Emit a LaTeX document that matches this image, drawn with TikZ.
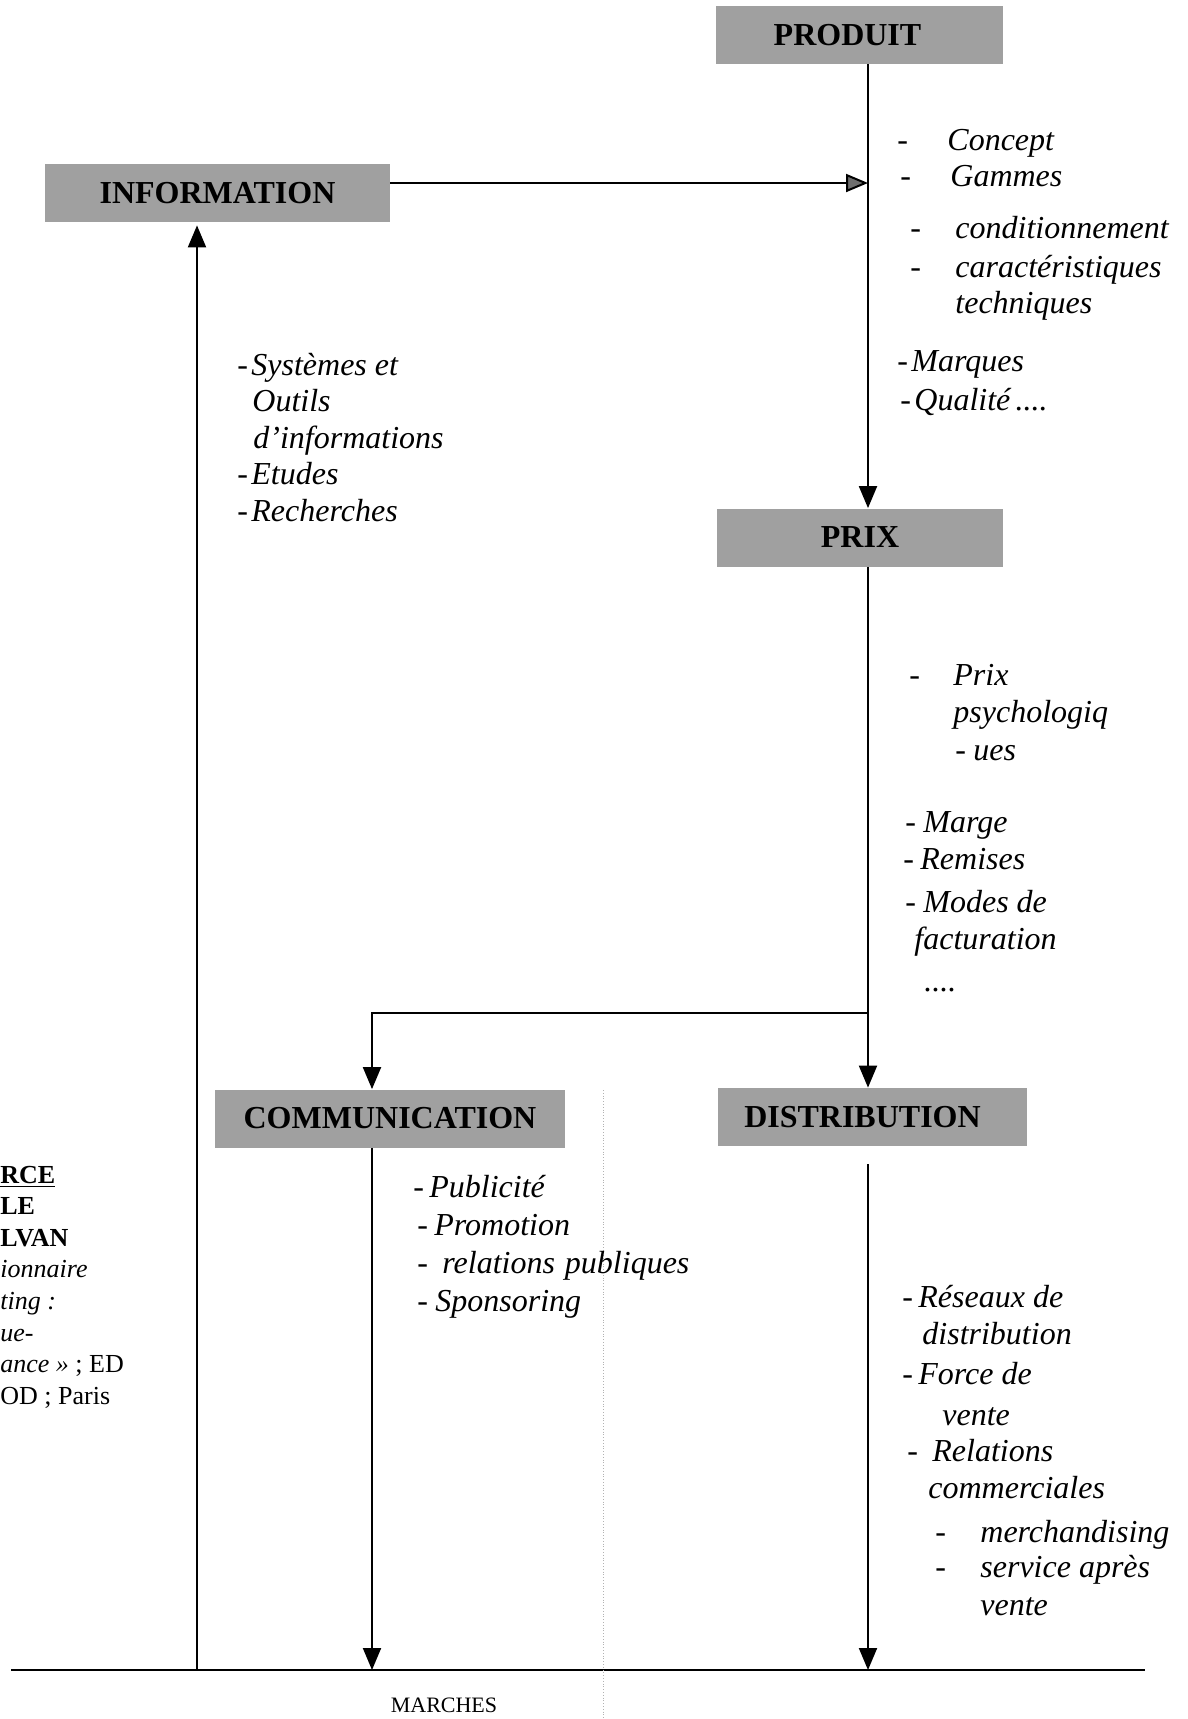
\documentclass[tikz,border=0pt]{standalone}
\usepackage{fontspec}
\setmainfont{Liberation Serif}
\definecolor{myGrey}{RGB}{160,160,160}
\definecolor{myArrowGrey}{RGB}{110,110,110}
\usetikzlibrary{arrows.meta,positioning}
\newcommand{\tiret}[1]{\makebox[#1][l]{\upshape -}}

\begin{document}
\begin{tikzpicture}[x=0.5pt,y=-0.5pt,
    bloc/.style={fill=myGrey, font=\bfseries\fontsize{16}{19}\selectfont, minimum height=29pt, inner sep=0pt},
    liste/.style={anchor=base west, inner sep=0pt, font=\itshape\fontsize{16}{17.5}\selectfont},
    trait/.style={line width=1pt},
    fleche/.style={trait, -{Triangle[width=9pt,length=11pt]}}]
  \useasboundingbox (0,0) rectangle (1188,1719);

  % les cinq blocs
  \node[bloc, minimum width=143.5pt] (produit) at (859.5,35) {PRODUIT\kern12pt};
  \node[bloc, minimum width=172.5pt] (info) at (217.5,193) {INFORMATION};
  \node[bloc, minimum width=143pt] (prix) at (860,537.5) {PRIX};
  \node[bloc, minimum width=175pt] (comm) at (390,1118.5) {COMMUNICATION};
  \node[bloc, minimum width=154.5pt] (distrib) at (872.5,1117) {DISTRIBUTION\kern10pt};

  \coordinate (axe) at (868,0);
  \coordinate (axeC) at (372,0);
  \coordinate (axeI) at (197,0);
  \coordinate (embr) at (868,1013);
  \coordinate (solG) at (11,1670);
  \coordinate (solD) at (1145,1670);

  % fleches
  \draw[trait] (solG) -- (solD);
  \draw[fleche] (produit.south -| axe) -- (prix.north -| axe);
  \draw[fleche] (prix.south -| axe) -- (distrib.north -| axe);
  \draw[fleche] (embr) -| (comm.north -| axeC);
  \draw[trait, -{Triangle[width=9pt,length=11pt,fill=myArrowGrey]}] ([yshift=5pt]info.east) -- ([yshift=5pt]info.east -| axe);
  \draw[fleche] (axeI |- solG) -- ([yshift=-1.5pt]info.south -| axeI);
  \draw[fleche] (comm.south -| axeC) -- (axeC |- solG);
  \draw[fleche] ([yshift=-9pt]distrib.south -| axe) -- (axe |- solG);
  \draw[black!30, densely dotted] (603,1090) -- (603,1719);

  % contenus
  \node[liste] (txtProduit) at (897,150) {\begin{tabular}[t]{@{}l@{}}
    \tiret{25pt}Concept\\[0.5pt]
    \hspace*{1.5pt}\tiret{25pt}Gammes\\[8.8pt]
    \hspace*{6.5pt}\tiret{22.5pt}conditionnement\\[1.7pt]
    \hspace*{6.5pt}\tiret{22.5pt}caractéristiques\\[0.6pt]
    \hspace*{29pt}techniques\\[11.5pt]
    \tiret{7pt}Marques\\[2.2pt]
    \hspace*{1.5pt}\tiret{7pt}Qualité\,....
  \end{tabular}};
  \node[liste] (txtInfo) at (237,375) {\begin{tabular}[t]{@{}l@{}}
    \tiret{7pt}Systèmes et\\[0.8pt]
    \hspace*{7.5pt}Outils\\[0.8pt]
    \hspace*{8pt}d’informations\\[0.8pt]
    \tiret{7pt}Etudes\\[0.8pt]
    \tiret{7pt}Recherches
  \end{tabular}};
  \node[liste] (txtPrix) at (903,685) {\begin{tabular}[t]{@{}l@{}}
    \hspace*{3pt}\tiret{22pt}Prix\\[1pt]
    \hspace*{25pt}psychologiq\\[1.5pt]
    \hspace*{26pt}\tiret{9pt}ues\\[18.5pt]
    \hspace*{1pt}\tiret{9pt}Marge\\[1pt]
    \tiret{8.5pt}Remises\\[4pt]
    \hspace*{1pt}\tiret{9pt}Modes de\\[1pt]
    \hspace*{5.5pt}facturation\\[3.5pt]
    \hspace*{10.5pt}....
  \end{tabular}};
  \node[liste] (txtComm) at (413,1197) {\begin{tabular}[t]{@{}l@{}}
    \tiret{8pt}Publicité\\[1.5pt]
    \hspace*{2pt}\tiret{8.5pt}Promotion\\[1.5pt]
    \hspace*{2pt}\tiret{12.5pt}relations\hspace{5pt}publiques\\[1.5pt]
    \hspace*{2pt}\tiret{9pt}Sponsoring
  \end{tabular}};
  \node[liste] (txtDistrib) at (902,1307) {\begin{tabular}[t]{@{}l@{}}
    \tiret{8pt}Réseaux de\\[1pt]
    \hspace*{10pt}distribution\\[2.5pt]
    \tiret{8pt}Force de\\[3pt]
    \hspace*{20pt}vente\\[0.5pt]
    \hspace*{2.5pt}\tiret{12.5pt}Relations\\[1pt]
    \hspace*{13pt}commerciales\\[4.5pt]
    \hspace*{16.5pt}\tiret{22.5pt}merchandising\\
    \hspace*{16.5pt}\tiret{22.5pt}service après\\[1.5pt]
    \hspace*{39pt}vente
  \end{tabular}};

  \node[anchor=base west, inner sep=0pt, font=\fontsize{13}{15.8}\selectfont] (source) at (0,1183) {\begin{tabular}[t]{@{}l@{}}
    \underline{\textbf{RCE}}\\
    \textbf{LE}\\
    \textbf{LVAN}\\
    \textit{ionnaire}\\
    \textit{ting :}\\
    \textit{ue-}\\
    \textit{ance »} ; ED\\
    OD ; Paris
  \end{tabular}};
  \node[anchor=base, inner sep=0pt, font=\fontsize{11}{13}\selectfont] (marches) at (444,1712) {MARCHES};
\end{tikzpicture}
\end{document}
